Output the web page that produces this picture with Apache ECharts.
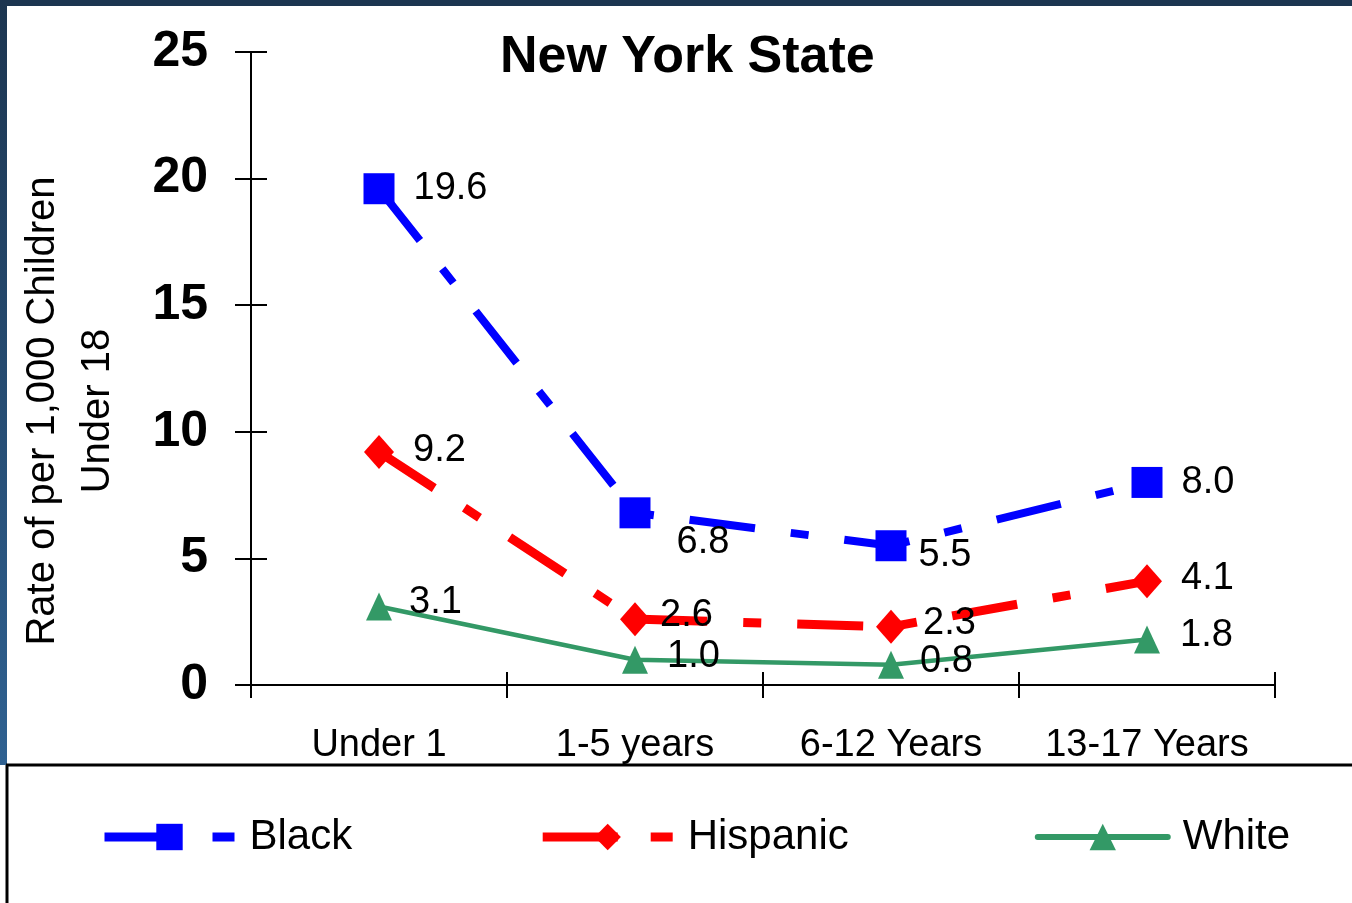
<!DOCTYPE html>
<html>
<head>
<meta charset="utf-8">
<script src="https://cdn.jsdelivr.net/npm/echarts@6/dist/echarts.min.js"></script>
<style>
  html, body { margin: 0; padding: 0; background: #fff; }
  #chart { width: 1352px; height: 903px; }
</style>
</head>
<body>
<div id="chart"></div>
<script>
const categories = ['Under 1', '1-5 years', '6-12 Years', '13-17 Years'];
const black = [19.6, 6.8, 5.5, 8.0];
const hispanic = [9.2, 2.6, 2.3, 4.1];
const white = [3.1, 1.0, 0.8, 1.8];

// label nudges, per point
const blackLabelOffset = [[0, 0], [7, 30], [-7, 10], [0, 0]];
const hispanicLabelOffset = [[0, -2], [-9, -4], [-2, -3], [0, -3]];
const whiteLabelOffset = [[-2, -4], [0, -3], [-3, -3], [1, -4]];

const FONT = '"Liberation Sans", Arial, sans-serif';

const chart = echarts.init(document.getElementById('chart'));

function withOffsets(values, offsets) {
  return values.map((v, i) => ({ value: v, label: { offset: offsets[i] } }));
}

function lineSeries(name, values, offsets, color, width, dash, symbol, size) {
  return {
    name,
    type: 'line',
    xAxisIndex: 0,
    yAxisIndex: 0,
    data: withOffsets(values, offsets),
    symbol,
    symbolSize: size,
    lineStyle: { color, width, type: dash },
    itemStyle: { color },
    label: {
      show: true,
      position: 'right',
      distance: 19,
      color: '#000',
      fontSize: 38,
      fontFamily: FONT,
      formatter: (p) => p.value.toFixed(1),
    },
    emphasis: { disabled: true },
    animation: false,
  };
}

const option = {
  backgroundColor: '#fff',
  title: {
    text: 'New York State',
    left: 500,
    top: 32,
    padding: 0,
    textStyle: { fontSize: 52, fontWeight: 'bold', color: '#000', fontFamily: FONT },
  },
  grid: { left: 251, right: 77, top: 52, bottom: 218 },
  xAxis: [
    {
      type: 'category',
      data: categories,
      axisLine: { lineStyle: { color: '#000', width: 2 } },
      axisTick: { show: true, length: 13, lineStyle: { color: '#000', width: 2 } },
      axisLabel: { color: '#000', fontSize: 38, fontFamily: FONT, margin: 42, interval: 0 },
    },
    {
      type: 'category',
      data: categories,
      position: 'bottom',
      axisLine: { show: false },
      axisTick: { show: true, inside: true, length: 13, lineStyle: { color: '#000', width: 2 } },
      axisLabel: { show: false },
    },
  ],
  yAxis: [
    {
      type: 'value',
      min: 0,
      max: 25,
      interval: 5,
      axisLine: { show: true, lineStyle: { color: '#000', width: 2 } },
      axisTick: { show: true, length: 16, lineStyle: { color: '#000', width: 2 } },
      axisLabel: { color: '#000', fontSize: 50, fontWeight: 'bold', fontFamily: FONT, margin: 43 },
      splitLine: { show: false },
    },
    {
      type: 'value',
      min: 0,
      max: 25,
      interval: 5,
      position: 'left',
      axisLine: { show: false },
      axisTick: { show: true, inside: true, length: 16, lineStyle: { color: '#000', width: 2 } },
      axisLabel: { show: false },
      splitLine: { show: false },
    },
  ],
  legend: {
    left: 100,
    top: 816,
    padding: 0,
    itemWidth: 130,
    itemHeight: 33,
    itemGap: 186,
    textStyle: { fontSize: 42, color: '#000', fontFamily: FONT, padding: [0, 0, 0, 10] },
    data: [
      { name: 'Black', lineStyle: { width: 9, type: [75, 33, 22] } },
      { name: 'Hispanic', lineStyle: { width: 9, type: [75, 33, 22] } },
      { name: 'White', lineStyle: { width: 6, cap: 'round' } },
    ],
  },
  graphic: [
    { type: 'rect', shape: { x: 0, y: 0, width: 1352, height: 6 }, style: { fill: '#1c3550' } },
    {
      type: 'rect',
      shape: { x: 0, y: 0, width: 7, height: 765 },
      style: {
        fill: new echarts.graphic.LinearGradient(0, 0, 0, 1, [
          { offset: 0, color: '#1c3550' },
          { offset: 1, color: '#2f6191' },
        ]),
      },
    },
    { type: 'line', shape: { x1: 6, y1: 765, x2: 1352, y2: 765 }, style: { stroke: '#000', lineWidth: 3 } },
    { type: 'line', shape: { x1: 7, y1: 765, x2: 7, y2: 903 }, style: { stroke: '#000', lineWidth: 3 } },
    {
      type: 'text',
      x: 70,
      y: 411,
      rotation: Math.PI / 2,
      style: {
        text: 'Rate of per 1,000 Children\nUnder 18',
        fill: '#000',
        fontSize: 40,
        fontFamily: FONT,
        lineHeight: 55,
        align: 'center',
        verticalAlign: 'middle',
      },
    },
  ],
  series: [
    lineSeries('Black', black, blackLabelOffset, '#0000ff', 8, [66, 36, 18, 36], 'rect', 31),
    lineSeries('Hispanic', hispanic, hispanicLabelOffset, '#ff0000', 9, [66, 36, 18, 36], 'diamond', [30, 34]),
    lineSeries('White', white, whiteLabelOffset, '#339966', 4.5, 'solid', 'triangle', [26, 28]),
  ],
};

chart.setOption(option);
</script>
</body>
</html>
